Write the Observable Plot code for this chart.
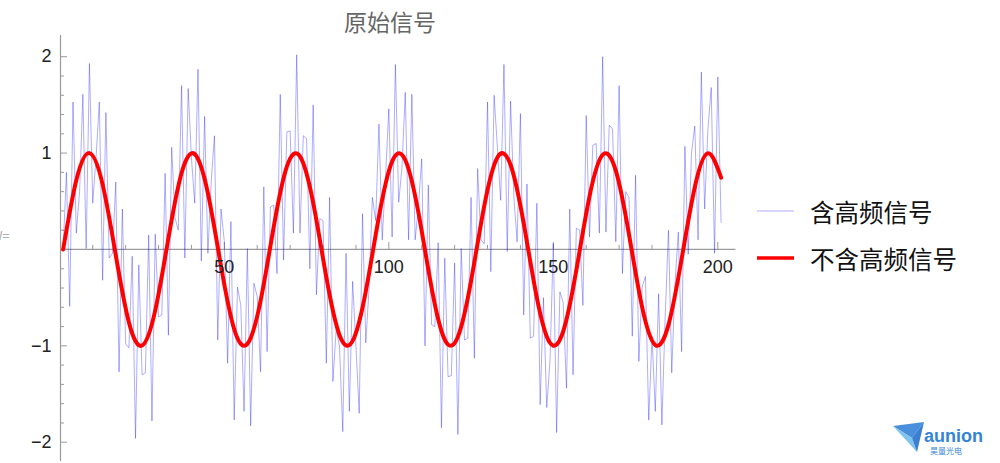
<!DOCTYPE html>
<html>
<head>
<meta charset="utf-8">
<script src="https://cdn.jsdelivr.net/npm/d3@7"></script>
<script src="https://cdn.jsdelivr.net/npm/@observablehq/plot@0.6"></script>
<style>
  html, body { margin: 0; padding: 0; background: #fff; }
  #wrap { position: relative; width: 1000px; height: 463px; overflow: hidden; font-family: "Noto Sans CJK SC", "Noto Sans", sans-serif; }
  #wrap svg.plot { position: absolute; left: 0; top: 0; }
  .abs { position: absolute; white-space: nowrap; line-height: 1; }
</style>
</head>
<body>
<div id="wrap"></div>
<script>
// ---- data ----
const title = "原始信号";
const seriesNames = ["含高频信号", "不含高频信号"];

// noisy signal, one value per sample index 1..201
const noisySignal = [
  0, 0.80, -0.59, 1.53, 0.17, 0.60, 1.61, 0.01, 1.93, 0.48,
  0.95, 1.53, -0.32, 1.42, -0.09, -0.04, 0.70, -1.27, 0.42, -0.98,
  -1.02, -0.07, -1.96, -0.16, -1.30, -1.28, 0.15, -1.78, 0.16, -0.70,
  -0.68, 0.79, -0.89, 1.06, 0.33, 0.20, 1.70, -0.09, 1.67, 0.95,
  0.48, 1.87, -0.12, 1.38, -0.04, 0.70, 1.18, -0.94, 0.42, 0.08,
  -1.18, 0.29, -1.77, -0.39, -0.58, -1.68, 0.01, -1.83, -0.35, -0.49,
  -1.27, 0.65, -1.06, 0.44, 0.46, -0.25, 1.61, -0.11, 1.22, 1.23,
  0.17, 2.02, 0.17, 1.18, 1.15, -0.20, 1.50, -0.47, 0.32, 0.30,
  -1.18, 0.54, -1.37, -0.83, -1.00, -1.89, -0.04, -1.68, -0.33, -1.00,
  -1.70, 0.37, -0.97, -0.40, 0.54, 0.30, 1.30, 0.10, 0.75, 1.46,
  0.13, 1.92, 0.49, 0.85, 1.63, 0.10, 1.61, 0.10, 0.45, 0.94,
  -1.00, 0.67, -0.78, -0.80, 0.07, -1.85, -0.09, -1.32, -1.31, -0.14,
  -1.92, 0.01, -0.94, -0.92, 0.54, -1.13, 0.84, 0.10, 0.06, 1.53,
  -0.23, 1.60, 1.06, 0.51, 1.92, -0.02, 1.54, 0.55, 0.08, 1.41,
  -0.68, 0.68, -0.92, -0.90, 0.48, -1.61, -0.50, -1.64, -1.15, 0.06,
  -1.90, -0.44, -0.55, -1.44, 0.42, -1.30, 0.22, 0.20, -0.58, 1.39,
  0.13, 1.08, 1.10, 0.17, 2.00, 0.18, 1.29, 1.25, 0.08, 1.70,
  -0.25, 0.60, 0.54, -0.90, 0.77, -1.16, -0.39, -0.28, -1.77, -0.90,
  -1.68, -0.46, -1.82, -0.70, 0.20, -1.28, -0.35, 0.18, -1.06, 1.07,
  -0.05, 1.00, 1.28, 0.10, 1.84, 0.42, 1.25, 1.68, -0.04, 1.79,
  0.28
];

// clean signal, sampled every 4th index (1, 5, 9, ..., 201)
const cleanSignal = [
  0, 0.7174, 0.9996, 0.6755, -0.0584, -0.7568, -0.9962, -0.6313, 0.1165, 0.7937,
  0.9894, 0.5849, -0.1743, -0.8278, -0.9793, -0.5366, 0.2315, 0.8592, 0.9657, 0.4864,
  -0.2879, -0.8873, -0.9489, -0.4346, 0.3433, 0.9129, 0.9286, 0.3812, -0.3975, -0.9352,
  -0.9056, -0.3266, 0.4504, 0.9543, 0.8792, 0.2709, -0.5017, -0.9702, -0.8500, -0.2143,
  0.5514, 0.9827, 0.8177, 0.1569, -0.5991, -0.9918, -0.7826, -0.0990, 0.6450, 0.9976,
  0.7451
];
const cleanStep = 4;

// ticks
const xMajor = [50, 100, 150, 200];
const xMinor = [10, 20, 30, 40, 60, 70, 80, 90, 110, 120, 130, 140, 160, 170, 180, 190];
const yMajor = [-2, -1, 1, 2];
const yMajorLabels = ["\u22122", "\u22121", "1", "2"];
const yMinor = [-1.8, -1.6, -1.4, -1.2, -0.8, -0.6, -0.4, -0.2, 0.2, 0.4, 0.6, 0.8, 1.2, 1.4, 1.6, 1.8];

// ---- layout ----
const W = 1000, H = 463;
const mt = 35, mb = 2, ml = 60, mr = 264.6;
const xDomain = [0.2, 205.5];
const yDomain = [-2.2, 2.22];
const frameW = W - ml - mr;
const y0px = mt + (yDomain[1] - 0) / (yDomain[1] - yDomain[0]) * (H - mt - mb);
const axisColor = "#9a9a9a";
const blueStroke = "#0000ff";
const blueOpacity = 0.32;
const redStroke = "#ff0000";
const labelFont = "Liberation Sans, Arial, sans-serif";

const plot = Plot.plot({
  width: W, height: H,
  marginTop: mt, marginBottom: mb, marginLeft: ml, marginRight: mr,
  x: {domain: xDomain, axis: null},
  y: {domain: yDomain, axis: null},
  style: {background: "transparent", overflow: "visible"},
  marks: [
    Plot.ruleY([0], {stroke: axisColor, strokeWidth: 1.2}),
    Plot.ruleX([xDomain[0]], {stroke: axisColor, strokeWidth: 1.2}),
    Plot.tickY(yMinor, {y: d => d, insetRight: frameW - 4, stroke: axisColor}),
    Plot.tickY(yMajor, {y: d => d, insetRight: frameW - 7, stroke: axisColor}),
    Plot.tickX(xMinor, {x: d => d, insetTop: y0px - mt - 4, insetBottom: H - mb - y0px, stroke: axisColor}),
    Plot.tickX(xMajor, {x: d => d, insetTop: y0px - mt - 7, insetBottom: H - mb - y0px, stroke: axisColor}),
    Plot.line(noisySignal, {x: (d, i) => i + 1, y: d => d, stroke: blueStroke, strokeOpacity: blueOpacity, strokeWidth: 1}),
    Plot.line(cleanSignal, {x: (d, i) => 1 + cleanStep * i, y: d => d, curve: "natural", stroke: redStroke, strokeWidth: 4}),
    Plot.text(yMajor, {y: d => d, text: (d, i) => yMajorLabels[i], frameAnchor: "left", dx: -9, textAnchor: "end", fontSize: 18, fontFamily: labelFont, fill: "#222"}),
    Plot.text(xMajor, {x: d => d, y: 0, text: d => String(d), dy: 18, fontSize: 18, fontFamily: labelFont, fill: "#222"})
  ]
});
plot.classList.add("plot");
const wrap = document.getElementById("wrap");
wrap.appendChild(plot);

function addDiv(html, css) {
  const d = document.createElement("div");
  d.className = "abs";
  d.innerHTML = html;
  Object.assign(d.style, css);
  wrap.appendChild(d);
  return d;
}

// title
addDiv(title, {left: "390px", top: "21px", transform: "translate(-50%, -50%)", fontSize: "23px", color: "#666"});

// cut-off notebook label on the far left
addDiv("l=", {left: "-1px", top: "235px", transform: "translateY(-50%)", fontSize: "13px", color: "#b0b0b0", fontStyle: "italic", fontFamily: labelFont});

// legend
const legendSvg = `<svg width="40" height="60" style="position:absolute;left:0;top:0;overflow:visible">
  <line x1="0" x2="37" y1="0" y2="0" stroke="${blueStroke}" stroke-opacity="${blueOpacity}" stroke-width="1.2"/>
  <line x1="0" x2="37" y1="47" y2="47" stroke="${redStroke}" stroke-width="3.5"/>
</svg>`;
addDiv(legendSvg, {left: "757px", top: "211px"});
addDiv(seriesNames[0], {left: "810px", top: "212px", transform: "translateY(-50%)", fontSize: "24.5px", color: "#111"});
addDiv(seriesNames[1], {left: "810px", top: "259px", transform: "translateY(-50%)", fontSize: "24.5px", color: "#111"});

// logo
const logo = `<svg width="110" height="45" viewBox="0 0 110 45" style="overflow:visible">
  <polygon points="3,8 34,4 22,20" fill="#4a8fdc"/>
  <polygon points="3,8 22,20 27,34" fill="#7ec4ee"/>
  <polygon points="22,20 34,4 27,34" fill="#3a7fd0"/>
  <text x="34" y="24" font-family="Liberation Sans, Arial, sans-serif" font-weight="bold" font-size="18" fill="#3584d8">aunion</text>
  <text x="40" y="36" font-family="Noto Sans CJK SC, sans-serif" font-size="8" fill="#3584d8">昊量光电</text>
</svg>`;
addDiv(logo, {left: "890px", top: "418px"});
</script>
</body>
</html>
